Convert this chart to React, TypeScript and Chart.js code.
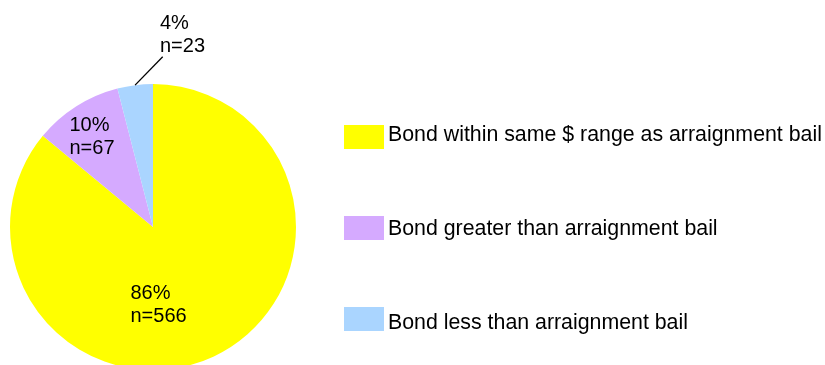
import React, { useEffect, useRef } from "react";
import { Chart, registerables } from "chart.js";

Chart.register(...registerables);

// ---------- data ----------
const categories = [
  "Bond within same $ range as arraignment bail",
  "Bond greater than arraignment bail",
  "Bond less than arraignment bail",
];
const percentValues = [86, 10, 4];
const counts = [566, 67, 23];
const sliceColors = ["#FFFF00", "#D5AAFF", "#AAD5FF"];

// ---------- layout / style ----------
const FONT = '"Liberation Sans", Arial, Helvetica, sans-serif';
const PIE_RADIUS = 143;
const LABEL_FONT_SIZE = 20;
const LABEL_LINE = 22.5;
// text origin / first baseline of each slice label, relative to the pie centre
const labelPlacement = [
  { dx: -22.5, dy: 72.3, leader: null as null | { dx: number; dy: number } },
  { dx: -83.5, dy: -96, leader: null as null | { dx: number; dy: number } },
  { dx: 7, dy: -198, leader: { dx: 9.7, dy: -170.3 } },
];
const LEGEND = {
  boxX: 344,
  boxTop: 125,
  boxStep: 91,
  boxW: 40,
  boxH: 24,
  textX: 388,
  textBaseline: 140.5,
  textStep: 94,
  fontSize: 21.33,
};

const sliceLabelsPlugin = {
  id: "sliceLabels",
  afterDatasetsDraw(chart: any) {
    const ctx = chart.ctx;
    const meta = chart.getDatasetMeta(0);
    const data = chart.data.datasets[0].data as number[];
    const total = data.reduce((a, b) => a + b, 0);
    ctx.save();
    ctx.fillStyle = "#000";
    ctx.strokeStyle = "#000";
    ctx.font = `${LABEL_FONT_SIZE}px ${FONT}`;
    ctx.textAlign = "left";
    ctx.textBaseline = "alphabetic";
    meta.data.forEach((arc: any, i: number) => {
      const { x, y, startAngle, endAngle, outerRadius } = arc.getProps(
        ["x", "y", "startAngle", "endAngle", "outerRadius"],
        true
      );
      const p = labelPlacement[i];
      const pct = Math.round((data[i] / total) * 100);
      const tx = x + p.dx;
      const ty = y + p.dy;
      ctx.fillText(`${pct}%`, tx, ty);
      ctx.fillText(`n=${counts[i]}`, tx, ty + LABEL_LINE);
      if (p.leader) {
        const mid = (startAngle + endAngle) / 2;
        const sx = x + Math.cos(mid) * outerRadius;
        const sy = y + Math.sin(mid) * outerRadius;
        ctx.lineWidth = 1.3;
        ctx.beginPath();
        ctx.moveTo(sx, sy);
        ctx.lineTo(x + p.leader.dx, y + p.leader.dy);
        ctx.stroke();
      }
    });
    ctx.restore();
  },
};

const legendPlugin = {
  id: "sideLegend",
  afterDraw(chart: any) {
    const ctx = chart.ctx;
    const labels = chart.data.labels as string[];
    const colors = chart.data.datasets[0].backgroundColor as string[];
    ctx.save();
    ctx.font = `${LEGEND.fontSize}px ${FONT}`;
    ctx.textAlign = "left";
    ctx.textBaseline = "alphabetic";
    labels.forEach((label, i) => {
      ctx.fillStyle = colors[i];
      ctx.fillRect(LEGEND.boxX, LEGEND.boxTop + i * LEGEND.boxStep, LEGEND.boxW, LEGEND.boxH);
      ctx.fillStyle = "#000";
      ctx.fillText(label, LEGEND.textX, LEGEND.textBaseline + i * LEGEND.textStep);
    });
    ctx.restore();
  },
};

export default function App() {
  const canvasRef = useRef<HTMLCanvasElement | null>(null);

  useEffect(() => {
    if (!canvasRef.current) return;
    const chart = new Chart(canvasRef.current, {
      type: "pie",
      data: {
        labels: categories,
        datasets: [
          {
            data: percentValues,
            backgroundColor: sliceColors,
            borderWidth: 0,
            clip: false as any,
          },
        ],
      },
      options: {
        responsive: false,
        animation: false,
        events: [],
        radius: PIE_RADIUS,
        rotation: 0,
        layout: { padding: { left: 0, right: 519, top: 89, bottom: 0 } },
        plugins: {
          legend: { display: false },
          tooltip: { enabled: false },
          title: { display: false },
        },
      } as any,
      plugins: [sliceLabelsPlugin, legendPlugin],
    });
    return () => chart.destroy();
  }, []);

  return (
    <div
      style={{
        position: "fixed",
        left: 0,
        top: 0,
        width: 825,
        height: 365,
        background: "#fff",
        overflow: "hidden",
      }}
    >
      <canvas ref={canvasRef} width={825} height={365} style={{ display: "block" }} />
    </div>
  );
}
